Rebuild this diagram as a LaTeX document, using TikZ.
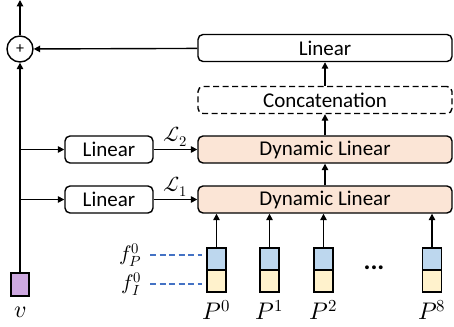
\documentclass[tikz,border=0pt]{standalone}
\usepackage{fontspec}
\usepackage{unicode-math}
\setmainfont{Carlito}
\usetikzlibrary{arrows.meta}

\definecolor{peach}{HTML}{FBE5D6}
\definecolor{featblue}{HTML}{BDD7EE}
\definecolor{featyellow}{HTML}{FFF2CC}
\definecolor{vpurple}{HTML}{CDA8E0}
\definecolor{dashblue}{HTML}{4472C4}

\tikzset{
  block/.style={draw,rounded corners=5pt,line width=1.4pt,minimum height=27pt,inner sep=0pt},
  wide/.style={block,minimum width=254pt},
  narrow/.style={block,minimum width=88pt},
  feat/.style={draw,line width=1.4pt,minimum width=19pt,minimum height=22pt,inner sep=0pt},
  arr/.style={-{Triangle[length=6.5pt,width=6.5pt]},line width=1.4pt},
  longdash/.style={dash pattern=on 6pt off 3.5pt},
  mathlab/.style={inner sep=0pt,font=\fontsize{24}{28}\selectfont},
  smallmath/.style={inner sep=0pt,font=\fontsize{21}{24}\selectfont},
}

\begin{document}
\begin{tikzpicture}[x=1pt,y=-1pt,font=\fontsize{21}{25}\selectfont]
  \useasboundingbox (0,0) rectangle (454,326);

  % main stack
  \node[wide]            (lin)  at (325,48)  {Linear};
  \node[wide,longdash]   (cat)  at (325,100) {Concatenation};
  \node[wide,fill=peach] (dyn2) at (325,149.5) {Dynamic Linear};
  \node[wide,fill=peach] (dyn1) at (325,199.5) {Dynamic Linear};
  \draw[arr] (dyn1) -- (dyn2);
  \draw[arr] (dyn2) -- (cat);
  \draw[arr] (cat) -- (lin);

  % side branch
  \node[narrow] (lin2) at (109,149.5) {Linear};
  \node[narrow] (lin1) at (109,199.5) {Linear};
  \draw[arr] (lin2) -- node[above=2pt,smallmath] {$\mathcal{L}_2$} (dyn2);
  \draw[arr] (lin1) -- node[above=2pt,smallmath] {$\mathcal{L}_1$} (dyn1);

  % v and the sum
  \node[draw,fill=vpurple,line width=1.4pt,minimum width=18pt,minimum height=23pt,inner sep=0pt] (v) at (20,284.5) {};
  \node[mathlab] (vlab) at (20,312) {$v$};
  \node[draw,circle,line width=1.4pt,minimum size=26pt,inner sep=0pt,font=\fontsize{16}{16}\selectfont] (add) at (20,49) {+};
  \coordinate (out) at (20,0);
  \draw[arr] (v) -- (add);
  \draw[arr] (add) -- (out);
  \draw[arr] (lin) -- (add);
  \draw[arr] (v |- lin2) -- (lin2);
  \draw[arr] (v |- lin1) -- (lin1);

  % tokens
  \foreach \x/\k in {216.5/0,269.5/1,323.5/2,432/8}{
    \node[feat,fill=featblue]   (p\k t) at (\x,259) {};
    \node[feat,fill=featyellow] (p\k b) at (\x,281) {};
    \node[mathlab] (p\k lab) at (\x,310) {$P^{\k}$};
    \draw[arr] (p\k t) -- (p\k t |- dyn1.south);
  }
  \node (dots) at (374,268) {\fontsize{26}{26}\selectfont\textbf{...}};

  % feature labels
  \node[smallmath,anchor=east] (fp) at (142,255) {$f_P^0$};
  \node[smallmath,anchor=east] (fi) at (142,284) {$f_I^0$};
  \draw[longdash,dashblue,line width=1.4pt,shorten <=8pt,shorten >=4pt] (fp) -- (fp -| p0t.west);
  \draw[longdash,dashblue,line width=1.4pt,shorten <=8pt,shorten >=4pt] (fi) -- (fi -| p0b.west);
\end{tikzpicture}
\end{document}
